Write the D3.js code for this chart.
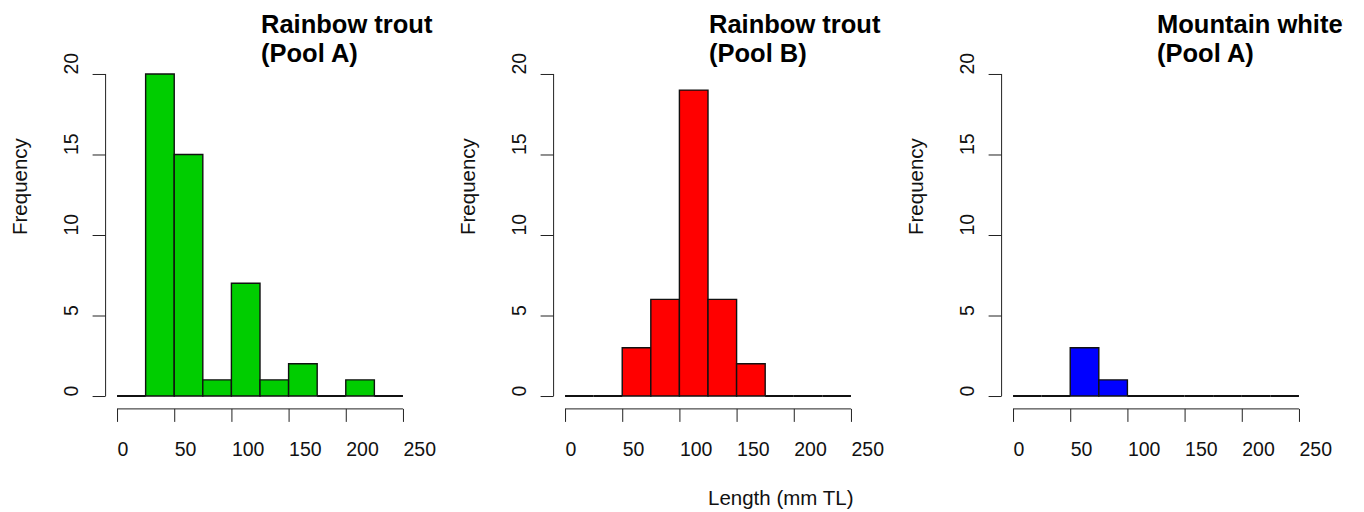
<!DOCTYPE html>
<html lang="en">
<head>
	<meta charset="UTF-8">
	<title>Length frequency by pool</title>
	<script src="https://d3js.org/d3.v7.min.js"></script>
	<style>
		body { margin: 0; background: #fff; }
		text { font-family: "Liberation Sans", Arial, sans-serif; }
	</style>
</head>
<body>

	<svg width="1364" height="512"></svg>

	<script>

		// histogram breaks (mm TL) and counts per panel
		var breaks = [0, 25, 50, 75, 100, 125, 150, 175, 200, 225, 250];
		var countsTroutA = [0, 20, 15, 1, 7, 1, 2, 0, 1, 0];
		var countsTroutB = [0, 0, 3, 6, 19, 6, 2, 0, 0, 0];
		var countsWhiteA = [0, 0, 3, 1, 0, 0, 0, 0, 0, 0];

		var titles = [
			["Rainbow trout", "(Pool A)"],
			["Rainbow trout", "(Pool B)"],
			["Mountain whitefish", "(Pool A)"]
		];
		var fills = ["#00cd00", "#ff0000", "#0000ff"];
		var xTicks = [0, 50, 100, 150, 200, 250];
		var yTicks = [0, 5, 10, 15, 20];

		var panels = [countsTroutA, countsTroutB, countsWhiteA];

		var svg = d3.select("svg");

		// the device clips the last title a little before the edge
		svg.append("defs").append("clipPath")
			.attr("id", "devclip")
			.append("rect")
			.attr("x", 0).attr("y", 0)
			.attr("width", 1343).attr("height", 512);

		var panelStep = 448;
		var plotLeft = 105.6, plotRight = 414.4;
		var plotTop = 61.1, plotBottom = 408.9;

		// R style: usr range padded by 4%
		var xScale = d3.scaleLinear()
			.domain([-10, 260])
			.range([plotLeft, plotRight]);

		var yScale = d3.scaleLinear()
			.domain([-0.8, 20.8])
			.range([plotBottom, plotTop]);

		var tickFont = "19.5px";
		var labFont = "20.5px";

		panels.forEach(function(counts, p) {

			var g = svg.append("g")
				.attr("transform", "translate(" + (p * panelStep) + ",0)");

			var bins = counts.map(function(c, i) {
				return {x0: breaks[i], x1: breaks[i + 1], n: c};
			});

			// bars (path so that zero bins still show as a line)
			g.selectAll(".bar")
				.data(bins)
				.enter()
				.append("path")
				.attr("class", "bar")
				.attr("d", function(d) {
					var a = xScale(d.x0), b = xScale(d.x1);
					var y0 = yScale(0), y1 = yScale(d.n);
					return "M" + a + "," + y0 + "H" + b + "V" + y1 + "H" + a + "Z";
				})
				.attr("fill", fills[p])
				.attr("stroke", "#111")
				.attr("stroke-width", function(d) { return d.n == 0 ? 2.2 : 1.4; });

			// x axis
			var xAxis = g.append("g")
				.attr("transform", "translate(0," + plotBottom + ")")
				.call(d3.axisBottom(xScale).tickValues(xTicks).tickSize(13).tickSizeOuter(0));

			xAxis.select(".domain").remove();
			xAxis.append("line")
				.attr("x1", xScale(xTicks[0]))
				.attr("x2", xScale(xTicks[xTicks.length - 1]))
				.attr("stroke", "#222");
			xAxis.selectAll(".tick line").attr("stroke", "#222");
			xAxis.selectAll(".tick text")
				.attr("y", 47)
				.attr("dy", null)
				.attr("text-anchor", "start")
				.attr("fill", "#111")
				.style("font-size", tickFont);

			// y axis
			var yAxis = g.append("g")
				.attr("transform", "translate(" + plotLeft + ",0)")
				.call(d3.axisLeft(yScale).tickValues(yTicks).tickSize(13).tickSizeOuter(0));

			yAxis.select(".domain").remove();
			yAxis.append("line")
				.attr("y1", yScale(yTicks[0]))
				.attr("y2", yScale(yTicks[yTicks.length - 1]))
				.attr("stroke", "#222");
			yAxis.selectAll(".tick line").attr("stroke", "#222");
			yAxis.selectAll(".tick text")
				.attr("x", null)
				.attr("dy", null)
				.attr("transform", "translate(-28,0) rotate(-90)")
				.attr("text-anchor", "start")
				.attr("fill", "#111")
				.style("font-size", tickFont);

			// y label
			var midY = (plotTop + plotBottom) / 2;
			g.append("text")
				.attr("transform", "translate(27," + midY + ") rotate(-90)")
				.attr("text-anchor", "start")
				.attr("fill", "#111")
				.style("font-size", labFont)
				.text("Frequency");

			// title, left aligned at plot centre
			var midX = (plotLeft + plotRight) / 2;
			var tg = g.append("g").attr("clip-path", p == 2 ? "url(#devclip)" : null);
			if (p == 2) {
				// clip is in panel coords here, shift it back
				tg.attr("clip-path", null);
				svg.select("#devclip rect").attr("x", -p * panelStep);
				tg.attr("clip-path", "url(#devclip)");
			}
			tg.append("text")
				.attr("x", midX + 1)
				.attr("y", 33)
				.style("font-size", "25.5px")
				.style("font-weight", "bold")
				.text(titles[p][0]);
			tg.append("text")
				.attr("x", midX + 1)
				.attr("y", 62)
				.style("font-size", "25.5px")
				.style("font-weight", "bold")
				.text(titles[p][1]);

			// x label only on the middle panel
			if (p == 1) {
				g.append("text")
					.attr("x", midX)
					.attr("y", 505)
					.attr("text-anchor", "start")
					.attr("fill", "#111")
					.style("font-size", labFont)
					.text("Length (mm TL)");
			}
		});

	</script>

</body>
</html>
